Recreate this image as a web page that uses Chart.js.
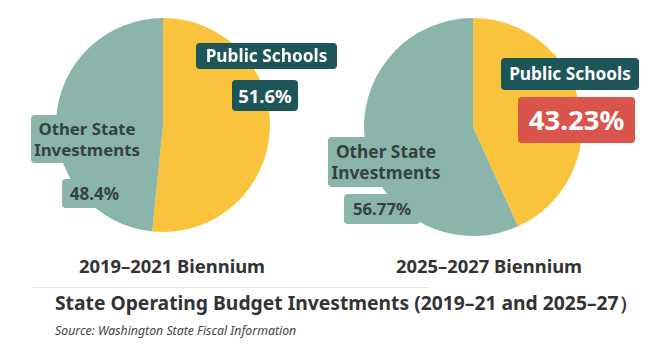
<!DOCTYPE html>
<html>
<head>
<meta charset="UTF-8">
<title>State Operating Budget Investments</title>
<script src="https://cdn.jsdelivr.net/npm/chart.js"></script>
<style>
  html, body { margin: 0; padding: 0; background: #fff; }
  body { width: 650px; height: 354px; position: relative; overflow: hidden;
         font-family: "Noto Sans", "Open Sans", sans-serif; }
  .pie { position: absolute; }
  .tag { position: absolute; border-radius: 4px; font-weight: bold; text-align: center;
         box-sizing: border-box; white-space: nowrap; }
  .dark { background: #1d5559; color: #fff; }
  .soft { background: #8bb5ab; color: #33423f; }
  .red { background: #d9544a; color: #fff; }
  .sub { position: absolute; top: 253px; font-size: 18.4px; font-weight: bold; color: #333;
         text-align: center; width: 260px; }
  #rule { position: absolute; left: 33px; top: 287px; width: 396px; height: 1px; background: #e4e4e4; }
  #title { position: absolute; left: 55px; top: 289px; font-size: 19.3px; font-weight: bold; color: #333; }
  #source { position: absolute; left: 55px; top: 322px; font-size: 12.3px; font-style: italic; color: #444; }
</style>
</head>
<body>
<div class="pie" style="left:56px;top:18px;width:214px;height:214px;"><canvas id="pieA"></canvas></div>
<div class="pie" style="left:364px;top:18px;width:218px;height:218px;"><canvas id="pieB"></canvas></div>

<div class="tag dark" style="left:196px;top:43px;width:141px;height:26px;font-size:17.3px;line-height:26px;">Public Schools</div>
<div class="tag dark" style="left:232px;top:80px;width:66px;height:31px;font-size:18.5px;line-height:31px;" id="valA0"></div>
<div class="tag soft" style="left:31px;top:115px;width:112px;height:48px;font-size:16.8px;line-height:21px;padding-top:3px;">Other State<br>Investments</div>
<div class="tag soft" style="left:62px;top:179px;width:65px;height:29px;font-size:17px;line-height:29px;" id="valA1"></div>

<div class="tag dark" style="left:501px;top:58px;width:138px;height:32px;font-size:17.3px;line-height:32px;">Public Schools</div>
<div class="tag red" style="left:518px;top:97px;width:117px;height:46px;font-size:27.5px;line-height:46px;" id="valB0"></div>
<div class="tag soft" style="left:328px;top:137px;width:116px;height:50px;font-size:17.3px;line-height:21px;padding-top:4px;">Other State<br>Investments</div>
<div class="tag soft" style="left:344px;top:194px;width:76px;height:30px;font-size:16.8px;line-height:30px;" id="valB1"></div>

<div class="sub" style="left:42px;">2019–2021 Biennium</div>
<div class="sub" style="left:359px;">2025–2027 Biennium</div>
<div id="rule"></div>
<div id="title">State Operating Budget Investments (2019–21 and 2025–27）</div>
<div id="source">Source: Washington State Fiscal Information</div>

<script>
  const categories = ['Public Schools', 'Other State Investments'];
  const share2019 = [51.6, 48.4];
  const share2025 = [43.23, 56.77];
  const sliceColors = ['#f9c33b', '#8bb5ab'];

  function drawPie(id, values) {
    new Chart(document.getElementById(id), {
      type: 'pie',
      data: {
        labels: categories,
        datasets: [{ data: values, backgroundColor: sliceColors, borderWidth: 0 }]
      },
      options: {
        responsive: true,
        maintainAspectRatio: false,
        animation: false,
        layout: { padding: 0 },
        plugins: { legend: { display: false }, tooltip: { enabled: false } }
      }
    });
  }

  drawPie('pieA', share2019);
  drawPie('pieB', share2025);

  document.getElementById('valA0').textContent = share2019[0] + '%';
  document.getElementById('valA1').textContent = share2019[1] + '%';
  document.getElementById('valB0').textContent = share2025[0] + '%';
  document.getElementById('valB1').textContent = share2025[1] + '%';
</script>
</body>
</html>
